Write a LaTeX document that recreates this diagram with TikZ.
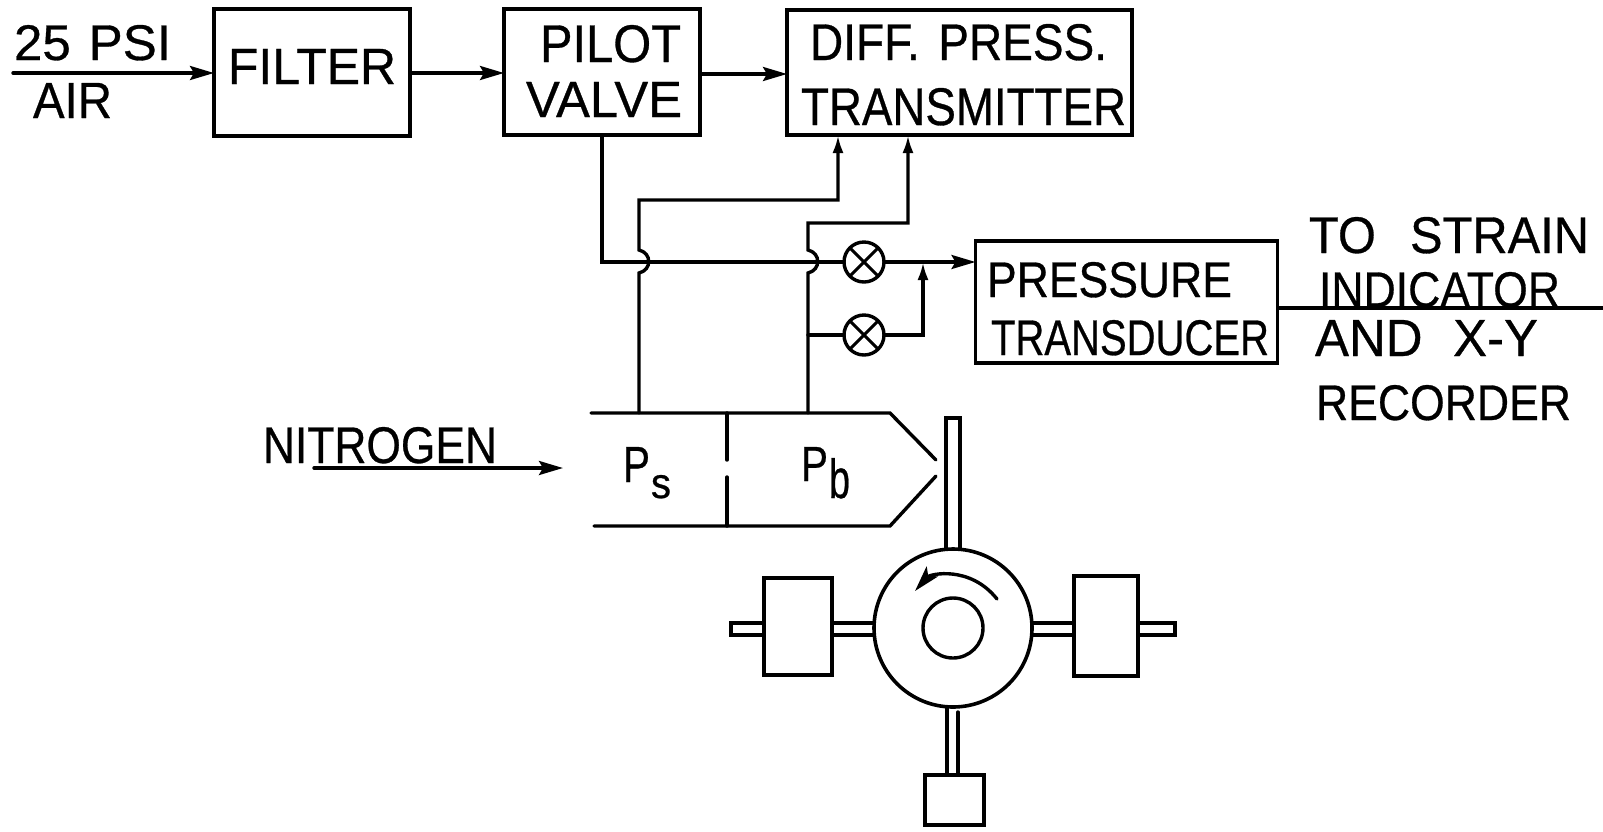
\documentclass[tikz,border=0pt]{standalone}
\usepackage{fontspec}
\setmainfont{Liberation Sans}
\newfontfamily\lett[FakeBold=0.6]{Liberation Sans}
\usetikzlibrary{arrows.meta}
\newcommand\lab[6]{\node[anchor=base west,inner sep=0pt,outer sep=0pt] (#1) at (#2,#3) {\resizebox{#4pt}{#5pt}{\lett\fontsize{48}{48}\selectfont #6}};}
\tikzset{
  ln/.style={line width=3.4pt,line cap=round,line join=miter},
  box/.style={draw,line width=3.6pt,fill=white,inner sep=0pt,outer sep=0pt},
  sensor/.style={circle,draw,line width=3.4pt,fill=white,minimum size=40pt,inner sep=0pt,outer sep=0pt},
  solidtip/.style={-{Stealth[length=24pt,width=14pt,inset=4pt]}},
  slimtip/.style={-{Latex[length=18pt,width=11pt]}},
  xline/.style={line width=3pt}
}
\begin{document}
\begin{tikzpicture}[x=1pt,y=-1pt]
\useasboundingbox (0,0) rectangle (1603,831);
% blocks
\node[box,minimum width=196pt,minimum height=127pt] (filter) at (312,72.5) {};
\node[box,minimum width=196pt,minimum height=126pt] (pilot) at (602,72) {};
\node[box,minimum width=345pt,minimum height=125pt] (diff) at (959.5,72.5) {};
\node[box,minimum width=302pt,minimum height=122pt] (trans) at (1126.5,302) {};
% free ends and bends
\coordinate (airin) at (13,73);
\coordinate (filterR) at (410,73);
\coordinate (pilotR) at (700,74);
\coordinate (pilotDown) at (602,135);
\coordinate (pilotBend) at (602,262);
\coordinate (stripTop) at (639,200);
\coordinate (stripEnd) at (838,200);
\coordinate (diffIn1) at (838,135);
\coordinate (bTop) at (808,223);
\coordinate (bEnd) at (908,223);
\coordinate (diffIn2) at (908,135);
\coordinate (sA) at (639,413);
\coordinate (sB) at (808,413);
\coordinate (branch) at (808,335);
\coordinate (merge) at (923,335);
\coordinate (mergeTop) at (923,262);
\coordinate (outEnd) at (1603,308);
\coordinate (transR) at (1278,308);
\coordinate (n2a) at (314,468);
\coordinate (n2b) at (563,468);
% sensors
\node[sensor] (s1) at (864,262) {};
\node[sensor] (s2) at (864,335) {};
\draw[xline] (s1.45)--(s1.225) (s1.135)--(s1.315);
\draw[xline] (s2.45)--(s2.225) (s2.135)--(s2.315);
% connectors
\draw[ln,solidtip] (airin) -- (filter.west |- airin);
\draw[ln,solidtip] (filterR) -- (pilot.west |- filterR);
\draw[ln,solidtip] (pilotR) -- (diff.west |- pilotR);
\draw[ln] (pilotDown) -- (pilotBend) -- (s1.west);
\draw[ln,solidtip] (s1.east) -- (trans.west |- s1.east);
\draw[ln,slimtip] (sA) -- (639,273) .. controls (652,270) and (652,253) .. (639,250) -- (stripTop) -- (stripEnd) -- (diffIn1);
\draw[ln,slimtip] (sB) -- (808,273) .. controls (821,270) and (821,253) .. (808,250) -- (bTop) -- (bEnd) -- (diffIn2);
\draw[ln] (branch) -- (s2.west);
\draw[ln,slimtip] (s2.east) -- (merge) -- (mergeTop);
\draw[ln] (transR) -- (outEnd);
\draw[ln,solidtip] (n2a) -- (n2b);
% nozzle
\draw[ln] (591,413) -- (890,413) -- (936,460);
\draw[ln] (594,526) -- (890,526) -- (936,476);
\draw[ln] (727,413) -- (727,460);
\draw[ln] (727,477) -- (727,526);
% rods
\draw[ln] (946,552) -- (946,418) -- (960,418) -- (960,552);
\draw[ln] (947,700) -- (947,775);
\draw[ln] (958,712) -- (958,775);
\draw[ln] (874,623) -- (731,623) -- (731,635) -- (874,635);
\draw[ln] (1032,623) -- (1175,623) -- (1175,635) -- (1032,635);
% rotor and masses
\node[circle,draw,line width=3.6pt,fill=white,minimum size=158pt,inner sep=0pt,outer sep=0pt] (rotor) at (953,628) {};
\node[circle,draw,line width=3.4pt,minimum size=60pt,inner sep=0pt,outer sep=0pt] (hub) at (953,628) {};
\node[box,minimum width=68pt,minimum height=97pt] (massL) at (798,626.5) {};
\node[box,minimum width=64pt,minimum height=100pt] (massR) at (1106,626) {};
\node[box,minimum width=59pt,minimum height=50pt] (massB) at (954.5,800) {};
\draw[ln,{Stealth[length=26pt,width=15pt,inset=6pt]}-] (915,591) .. controls (930,574) and (970,565) .. (997,599);
% texts
\lab{t1}{14}{60}{157}{35}{25\hspace{0.35em}PSI}
\lab{t2}{33}{118}{79}{35}{AIR}
\lab{t3}{228}{84}{168}{35}{FILTER}
\lab{t4}{540}{62}{141}{37}{PILOT}
\lab{t5}{526}{117}{156}{35}{VALVE}
\lab{t6}{810}{60}{297}{36}{DIFF.\hspace{0.4em}PRESS.}
\lab{t7}{801}{125}{325}{37}{TRANSMITTER}
\lab{t8}{987}{297}{245}{35}{PRESSURE}
\lab{t9}{991}{355}{278}{35}{TRANSDUCER}
\lab{t10}{1309}{253}{280}{36}{TO\hspace{0.7em}STRAIN}
\lab{t11}{1319}{307}{241}{35}{INDICATOR}
\lab{t12}{1315}{356}{223}{36}{AND\hspace{0.6em}X-Y}
\lab{t13}{1316}{420}{255}{35}{RECORDER}
\lab{t14}{263}{463}{234}{36}{NITROGEN}
\lab{t15}{623}{482}{27}{35}{P}
\lab{t16}{651}{498}{20}{23}{s}
\lab{t17}{801}{481}{27}{34}{P}
\lab{t18}{829}{498}{21}{40}{b}
\end{tikzpicture}
\end{document}
